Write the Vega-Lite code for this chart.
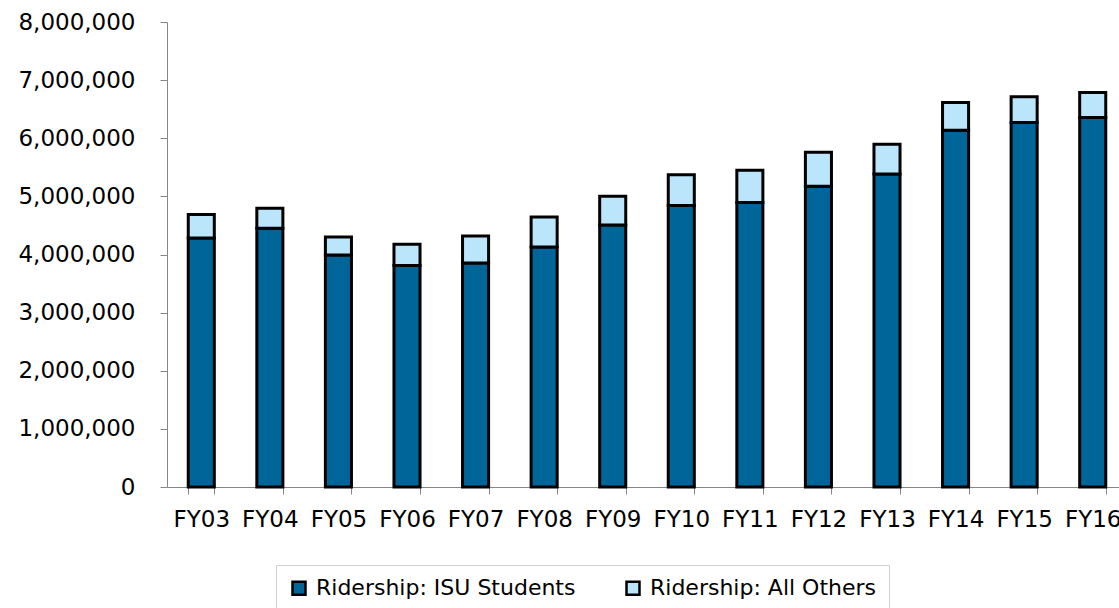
{
  "$schema": "https://vega.github.io/schema/vega-lite/v6.json",
  "width": 952,
  "height": 465,
  "autosize": {"type": "none"},
  "padding": {"left": 167, "top": 22, "right": 0, "bottom": 121},
  "background": "white",
  "config": {
    "font": "DejaVu Sans",
    "view": {"stroke": null}
  },
  "data": {
    "values": [
      {"year": "FY03", "series": "Ridership: ISU Students", "riders": 4286000},
      {"year": "FY03", "series": "Ridership: All Others", "riders": 402000},
      {"year": "FY04", "series": "Ridership: ISU Students", "riders": 4453000},
      {"year": "FY04", "series": "Ridership: All Others", "riders": 344000},
      {"year": "FY05", "series": "Ridership: ISU Students", "riders": 3993000},
      {"year": "FY05", "series": "Ridership: All Others", "riders": 310000},
      {"year": "FY06", "series": "Ridership: ISU Students", "riders": 3811000},
      {"year": "FY06", "series": "Ridership: All Others", "riders": 366000},
      {"year": "FY07", "series": "Ridership: ISU Students", "riders": 3855000},
      {"year": "FY07", "series": "Ridership: All Others", "riders": 465000},
      {"year": "FY08", "series": "Ridership: ISU Students", "riders": 4131000},
      {"year": "FY08", "series": "Ridership: All Others", "riders": 516000},
      {"year": "FY09", "series": "Ridership: ISU Students", "riders": 4509000},
      {"year": "FY09", "series": "Ridership: All Others", "riders": 494000},
      {"year": "FY10", "series": "Ridership: ISU Students", "riders": 4843000},
      {"year": "FY10", "series": "Ridership: All Others", "riders": 527000},
      {"year": "FY11", "series": "Ridership: ISU Students", "riders": 4895000},
      {"year": "FY11", "series": "Ridership: All Others", "riders": 556000},
      {"year": "FY12", "series": "Ridership: ISU Students", "riders": 5176000},
      {"year": "FY12", "series": "Ridership: All Others", "riders": 585000},
      {"year": "FY13", "series": "Ridership: ISU Students", "riders": 5387000},
      {"year": "FY13", "series": "Ridership: All Others", "riders": 511000},
      {"year": "FY14", "series": "Ridership: ISU Students", "riders": 6139000},
      {"year": "FY14", "series": "Ridership: All Others", "riders": 477000},
      {"year": "FY15", "series": "Ridership: ISU Students", "riders": 6272000},
      {"year": "FY15", "series": "Ridership: All Others", "riders": 441000},
      {"year": "FY16", "series": "Ridership: ISU Students", "riders": 6358000},
      {"year": "FY16", "series": "Ridership: All Others", "riders": 430000}
    ]
  },
  "mark": {"type": "bar", "stroke": "black", "strokeWidth": 3},
  "encoding": {
    "x": {
      "field": "year",
      "type": "ordinal",
      "scale": {"range": [0, 960], "paddingInner": 0.62, "paddingOuter": 0.31},
      "axis": {
        "title": null,
        "labelAngle": 0,
        "tickBand": "extent",
        "domainColor": "#868686",
        "tickColor": "#868686",
        "tickSize": 7,
        "labelFontSize": 23,
        "labelColor": "black",
        "labelPadding": 14
      }
    },
    "y": {
      "field": "riders",
      "type": "quantitative",
      "stack": "zero",
      "scale": {"domain": [0, 8000000]},
      "axis": {
        "title": null,
        "grid": false,
        "values": [0, 1000000, 2000000, 3000000, 4000000, 5000000, 6000000, 7000000, 8000000],
        "format": ",d",
        "domainColor": "#868686",
        "tickColor": "#868686",
        "tickSize": 7,
        "labelFontSize": 23,
        "labelColor": "black",
        "labelPadding": 25
      }
    },
    "color": {
      "field": "series",
      "type": "nominal",
      "scale": {
        "domain": ["Ridership: ISU Students", "Ridership: All Others"],
        "range": ["#00669a", "#bbe5fb"]
      },
      "legend": {
        "orient": "none",
        "legendX": 109,
        "legendY": 543,
        "direction": "horizontal",
        "title": null,
        "symbolType": "square",
        "symbolSize": 169,
        "symbolStrokeColor": "black",
        "symbolStrokeWidth": 2.5,
        "symbolOpacity": 1,
        "labelFontSize": 22,
        "labelColor": "black",
        "labelOffset": 6,
        "labelLimit": 400,
        "columnPadding": 45,
        "padding": 12,
        "strokeColor": "#d0d0d0"
      }
    },
    "order": {"field": "series", "sort": "descending"}
  }
}
